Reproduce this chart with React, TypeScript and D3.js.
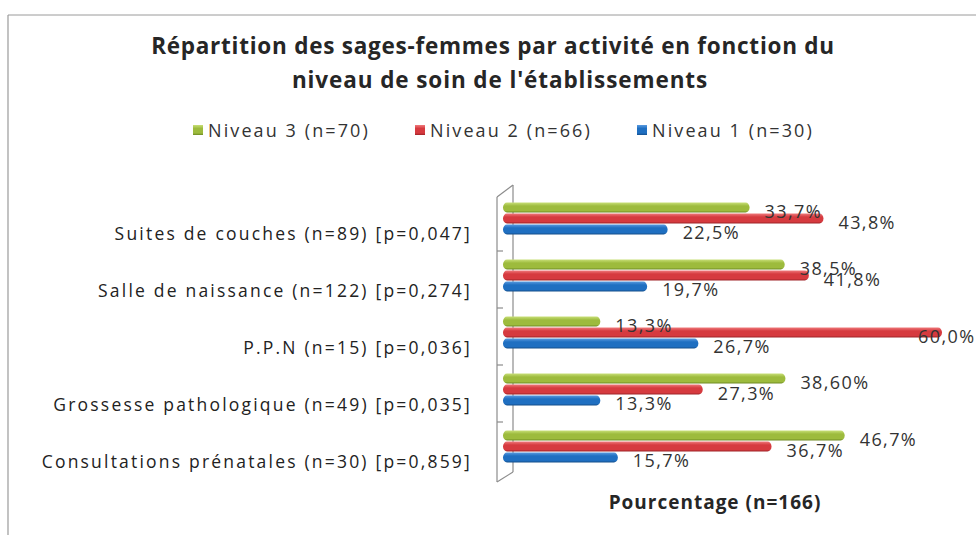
import React from 'react';
import * as d3 from 'd3';

// Chart data
const categories = [
  'Suites de couches (n=89) [p=0,047]',
  'Salle de naissance (n=122) [p=0,274]',
  'P.P.N (n=15) [p=0,036]',
  'Grossesse pathologique (n=49) [p=0,035]',
  'Consultations prénatales (n=30) [p=0,859]',
];
const seriesNames = ['Niveau 3 (n=70)', 'Niveau 2 (n=66)', 'Niveau 1 (n=30)'];
const niveau3 = [33.7, 38.5, 13.3, 38.6, 46.7];
const niveau2 = [43.8, 41.8, 60.0, 27.3, 36.7];
const niveau1 = [22.5, 19.7, 26.7, 13.3, 15.7];
const labels3 = ['33,7%', '38,5%', '13,3%', '38,60%', '46,7%'];
const labels2 = ['43,8%', '41,8%', '60,0%', '27,3%', '36,7%'];
const labels1 = ['22,5%', '19,7%', '26,7%', '13,3%', '15,7%'];

const W = 976;
const H = 535;
const colors = [
  { id: 'g3', base: '#9dbb3d', light: '#c8df78', dark: '#6d8a22' },
  { id: 'g2', base: '#d63a3f', light: '#ef7a7c', dark: '#9e2328' },
  { id: 'g1', base: '#1f6fc1', light: '#5a9be0', dark: '#154f8c' },
];
const FONT = '"Open Sans", "Noto Sans", sans-serif';

export default function App() {
  const series = [niveau3, niveau2, niveau1];
  const labels = [labels3, labels2, labels1];

  const x = d3.scaleLinear().domain([0, 60]).range([503, 942]);
  const y = d3.scaleBand<string>().domain(categories).range([190, 475]);
  const inner = d3.scaleBand<string>().domain(seriesNames)
    .range([-16, 16]).paddingInner(0.08);
  const barH = inner.bandwidth();

  const wallTop = y.range()[0] - 5;
  const wallBottom = y.range()[1] - 3;

  return (
    <div style={{ position: 'fixed', left: 0, top: 0, width: W, height: H, background: '#fff' }}>
      <svg width={W} height={H} style={{ display: 'block', fontFamily: FONT }}>
        <defs>
          {colors.map(c => (
            <linearGradient key={c.id} id={c.id} x1="0" x2="0" y1="0" y2="1">
              <stop offset="0%" stopColor={c.light} />
              <stop offset="35%" stopColor={c.base} />
              <stop offset="80%" stopColor={c.base} />
              <stop offset="100%" stopColor={c.dark} />
            </linearGradient>
          ))}
        </defs>

        {/* frame */}
        <line x1={8} x2={W} y1={15} y2={15} stroke="#9a9a9a" strokeWidth={1} />
        <line x1={8} x2={8} y1={15} y2={H} stroke="#9a9a9a" strokeWidth={1.2} />

        {/* title */}
        <text x={493} y={54} textAnchor="middle" fontSize={22.5} fontWeight="bold" letterSpacing={0.75} fill="#262626">
          Répartition des sages-femmes par activité en fonction du
        </text>
        <text x={500} y={88} textAnchor="middle" fontSize={22.5} fontWeight="bold" letterSpacing={0.9} fill="#262626">
          niveau de soin de l'établissements
        </text>

        {/* legend */}
        {seriesNames.map((s, i) => (
          <g key={s} transform={`translate(${193 + i * 222},130)`}>
            <rect x={0} y={-5} width={10} height={10} fill={`url(#${colors[i].id})`} />
            <text x={15} y={0} dominantBaseline="central" fontSize={18} letterSpacing={2.1} fill="#333">{s}</text>
          </g>
        ))}

        {/* 3D back wall / axis */}
        <g stroke="#8c8c8c" strokeWidth={1.2} fill="none">
          <line x1={513} x2={513} y1={wallTop} y2={wallBottom} />
          <line x1={497} x2={497} y1={wallTop + 12} y2={wallBottom + 10} />
          <line x1={497} x2={513} y1={wallTop + 12} y2={wallTop} />
          <line x1={497} x2={513} y1={wallBottom + 10} y2={wallBottom} />
          {d3.range(1, categories.length).map(k => {
            const ty = y.range()[0] + y.step() * k;
            return <line key={k} x1={497} x2={503} y1={ty + 4} y2={ty + 4} />;
          })}
        </g>

        {/* bars */}
        {categories.map((c, ci) => {
          const cy = (y(c) as number) + y.bandwidth() / 2;
          return (
            <g key={c}>
              {series.map((vals, si) => {
                const by = cy + (inner(seriesNames[si]) as number);
                const x1 = x(vals[ci]);
                return (
                  <rect key={si} x={x(0)} y={by} width={x1 - x(0)} height={barH} rx={4} ry={barH / 2}
                    fill={`url(#${colors[si].id})`} />
                );
              })}
              {series.map((vals, si) => {
                const by = cy + (inner(seriesNames[si]) as number);
                const lx = Math.min(x(vals[ci]) + 15, W - 58);
                return (
                  <text key={'l' + si} x={lx} y={by + barH / 2 + 3} dominantBaseline="central"
                    fontSize={18} letterSpacing={1.4} fill="#333">
                    {labels[si][ci]}
                  </text>
                );
              })}
              <text x={472} y={cy + 14} textAnchor="end" dominantBaseline="central"
                fontSize={17.5} letterSpacing={2.2} fill="#222">
                {c}
              </text>
            </g>
          );
        })}

        {/* axis title */}
        <text x={715} y={502} textAnchor="middle" dominantBaseline="central" fontSize={19}
          fontWeight="bold" letterSpacing={1} fill="#262626">
          Pourcentage (n=166)
        </text>
      </svg>
    </div>
  );
}
